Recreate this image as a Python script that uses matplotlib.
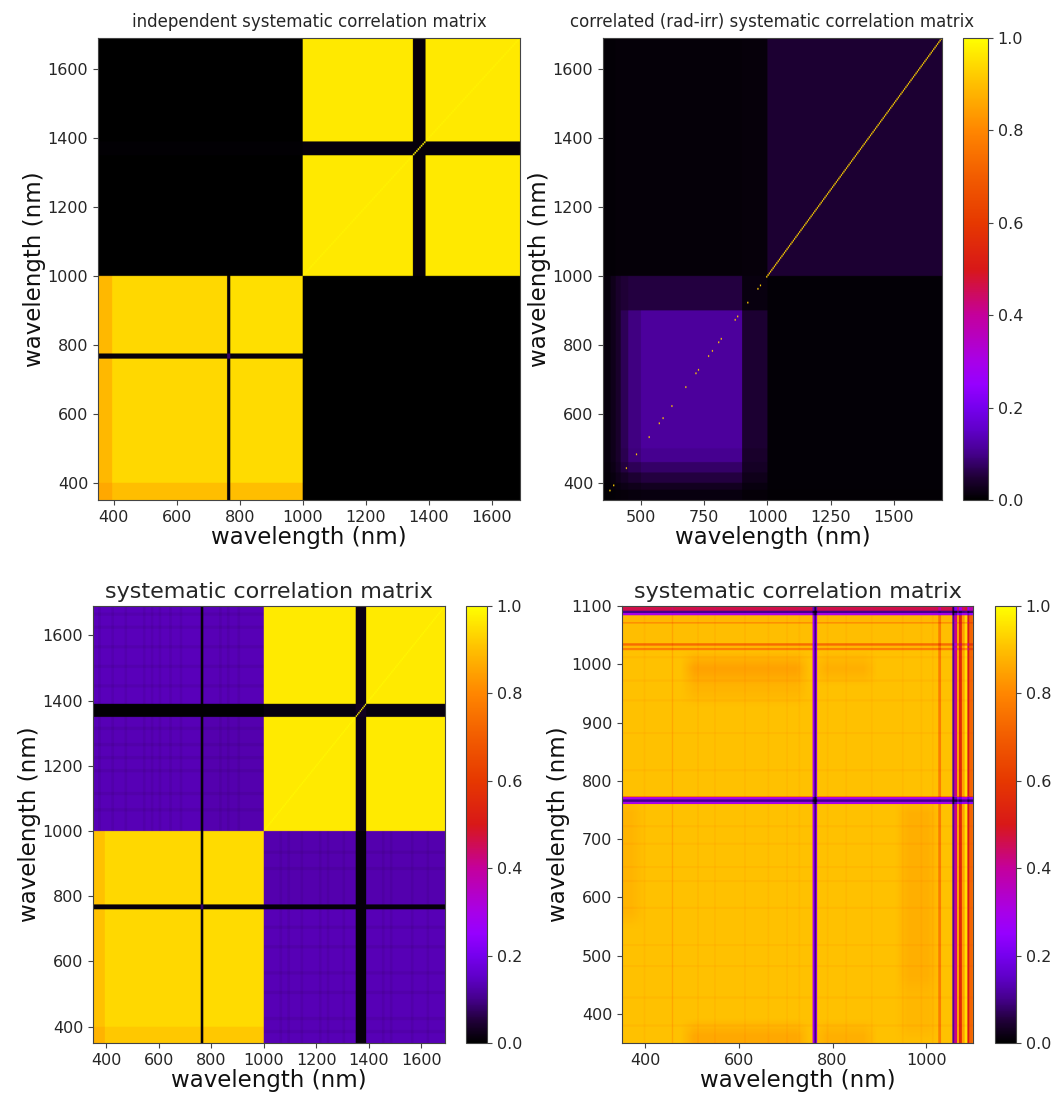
import matplotlib
matplotlib.use("Agg")
import matplotlib.pyplot as plt
from matplotlib.colors import LinearSegmentedColormap
import numpy as np

W, H = 1053, 1097
GRID_FULL = np.arange(350, 1690, 5.0)
GRID_VIS = np.arange(350, 1100, 2.0)

# colour bar
cmap_pos = [0.0, 0.05, 0.1, 0.15, 0.2, 0.25, 0.3, 0.4, 0.5, 0.6, 0.7, 0.8, 0.9, 1.0]
cmap_cols = ["#000000", "#200038", "#45008C", "#5F00C8", "#7600EE", "#9600FF", "#A800E8",
             "#C4009C", "#D81818", "#E63800", "#F25C00", "#FF8600", "#FFBE00", "#FFFF00"]

# independent systematic: band edges and block values
ind_x_edges = [350, 395, 757, 770, 1000, 1350, 1390, 1690]
ind_y_edges = [350, 400, 760, 772, 1000, 1350, 1390, 1690]
ind_blocks = [
    [0.86, 0.90, 0.01, 0.90, 0.00, 0.00, 0.00],
    [0.89, 0.94, 0.01, 0.945, 0.00, 0.00, 0.00],
    [0.01, 0.01, 0.08, 0.01, 0.00, 0.00, 0.00],
    [0.89, 0.94, 0.01, 0.95, 0.00, 0.00, 0.00],
    [0.00, 0.00, 0.00, 0.00, 0.965, 0.01, 0.965],
    [0.005, 0.005, 0.005, 0.005, 0.01, 0.01, 0.01],
    [0.00, 0.00, 0.00, 0.00, 0.965, 0.01, 0.965],
]

# correlated (rad-irr) systematic
cor_x_edges = [350, 380, 400, 420, 450, 500, 900, 1000, 1690]
cor_y_edges = [350, 380, 400, 430, 460, 500, 900, 1000, 1690]
cor_blocks = [
    [0.004, 0.006, 0.008, 0.01, 0.012, 0.015, 0.008, 0.005],
    [0.006, 0.01, 0.015, 0.02, 0.025, 0.03, 0.015, 0.006],
    [0.008, 0.015, 0.025, 0.035, 0.045, 0.055, 0.025, 0.006],
    [0.01, 0.02, 0.035, 0.055, 0.07, 0.08, 0.035, 0.006],
    [0.012, 0.025, 0.04, 0.065, 0.09, 0.105, 0.04, 0.006],
    [0.012, 0.025, 0.04, 0.07, 0.095, 0.115, 0.045, 0.006],
    [0.01, 0.025, 0.04, 0.05, 0.055, 0.055, 0.015, 0.006],
    [0.006, 0.007, 0.008, 0.008, 0.008, 0.008, 0.01, 0.045],
]
cor_diag_dots = [374, 388, 440, 477, 528, 567, 581, 620, 672, 711, 724, 762, 776,
                 801, 815, 866, 880, 919, 957, 970, 995]

# combined systematic
sys_x_edges = [350, 395, 757, 770, 1000, 1350, 1390, 1690]
sys_y_edges = [350, 400, 760, 772, 1000, 1350, 1390, 1690]
sys_blocks = [
    [0.88, 0.915, 0.01, 0.915, 0.135, 0.01, 0.135],
    [0.905, 0.94, 0.01, 0.945, 0.135, 0.01, 0.135],
    [0.01, 0.01, 0.08, 0.01, 0.01, 0.01, 0.01],
    [0.905, 0.94, 0.01, 0.945, 0.13, 0.01, 0.13],
    [0.135, 0.135, 0.01, 0.13, 0.968, 0.02, 0.968],
    [0.005, 0.005, 0.005, 0.005, 0.015, 0.03, 0.015],
    [0.14, 0.14, 0.01, 0.135, 0.968, 0.02, 0.968],
]
sys_dark_cols = [370, 420, 470, 540, 570, 600, 640, 680, 830, 860, 900, 1060, 1090, 1140,
                 1210, 1240, 1300, 1450, 1480, 1560, 1620]
sys_dark_rows = [380, 420, 500, 560, 640, 700, 880, 930, 1060, 1110, 1180, 1220, 1260,
                 1310, 1440, 1500, 1560, 1620, 1660]

# VIS-NIR matrix: profile along each axis plus local patches
vis_col_edges = [350, 455, 458, 756, 760, 763, 766, 1024, 1029, 1054, 1057, 1063, 1068,
                 1073, 1080, 1085, 1090, 1096, 1100]
vis_col_vals = [0.905, 0.86, 0.905, 0.30, 0.10, 0.30, 0.905, 0.78, 0.905, 0.12, 0.42, 0.85,
                0.56, 0.85, 0.95, 0.50, 0.72, 0.75]
vis_row_edges = [350, 759, 760, 764, 767, 771, 773, 1024, 1027, 1032, 1036, 1070, 1072,
                 1083, 1087, 1091, 1097, 1100]
vis_row_vals = [0.905, 0.72, 0.30, 0.10, 0.30, 0.78, 0.905, 0.78, 0.89, 0.74, 0.90, 0.79,
                0.89, 0.30, 0.10, 0.46, 0.65]
vis_patches = [
    (945, 1015, 450, 760, 0.965),
    (945, 1015, 360, 450, 0.98),
    (350, 385, 560, 760, 0.975),
    (490, 735, 975, 1010, 0.94),
    (490, 735, 940, 975, 0.975),
    (770, 880, 975, 1010, 0.965),
    (490, 735, 350, 378, 0.95),
    (770, 880, 350, 378, 0.965),
]
vis_soft_cols = [395, 455, 510, 545, 610, 660, 700, 725, 785, 825, 880, 945, 985, 1010]
vis_soft_rows = [378, 425, 480, 515, 580, 625, 650, 690, 720, 815, 880, 935, 970, 1010]

tick_labels_ind = [400, 600, 800, 1000, 1200, 1400, 1600]
tick_labels_cor_x = [500, 750, 1000, 1250, 1500]
tick_labels_vis_x = [400, 600, 800, 1000]
tick_labels_vis_y = [400, 500, 600, 700, 800, 900, 1000, 1100]
cbar_ticks = [0.0, 0.2, 0.4, 0.6, 0.8, 1.0]

TXT = "#262626"
SPINE = "#444444"
cmap = LinearSegmentedColormap.from_list("figure_bar", list(zip(cmap_pos, cmap_cols)), N=512)


def block_matrix(grid_x, grid_y, x_edges, y_edges, blocks):
    ix = np.clip(np.searchsorted(x_edges, grid_x, side="right") - 1, 0, len(x_edges) - 2)
    iy = np.clip(np.searchsorted(y_edges, grid_y, side="right") - 1, 0, len(y_edges) - 2)
    return np.asarray(blocks)[np.ix_(iy, ix)]


def axes_px(x0, y0, x1, y1):
    return fig.add_axes([x0 / W, 1 - y1 / H, (x1 - x0) / W, (y1 - y0) / H])


def show(ax, mat, extent, xticks, yticks, title, tsize, pad):
    im = ax.imshow(mat, origin="lower", extent=extent, cmap=cmap, vmin=0, vmax=1,
                   aspect="auto", interpolation="hanning")
    ax.set_xticks(xticks)
    ax.set_yticks(yticks)
    ax.tick_params(labelsize=11.5, labelcolor=TXT, color=SPINE)
    ax.set_xlabel("wavelength (nm)", fontsize=16.5, labelpad=1, color="#111111")
    ax.set_ylabel("wavelength (nm)", fontsize=16.5, labelpad=1, color="#111111")
    ax.set_title(title, fontsize=tsize, pad=pad, color=TXT)
    for s in ax.spines.values():
        s.set_color(SPINE)
    return im


def add_cbar(im, x0, y0, x1, y1):
    cax = axes_px(x0, y0, x1, y1)
    cb = fig.colorbar(im, cax=cax, ticks=cbar_ticks)
    cb.ax.tick_params(labelsize=11.5, labelcolor=TXT, color=SPINE)
    cb.outline.set_edgecolor(SPINE)
    return cb


fig = plt.figure(figsize=(W / 100, H / 100), dpi=100)
extent_full = [350, 1690, 350, 1690]
diag = np.arange(len(GRID_FULL))
nir = GRID_FULL >= 1000

# independent
ind = block_matrix(GRID_FULL, GRID_FULL, ind_x_edges, ind_y_edges, ind_blocks)
ind[diag[nir], diag[nir]] = 0.98
ax1 = axes_px(98, 38, 520, 500)
show(ax1, ind, extent_full, tick_labels_ind, tick_labels_ind,
     "independent systematic correlation matrix", 12, 8)

# correlated
cor = block_matrix(GRID_FULL, GRID_FULL, cor_x_edges, cor_y_edges, cor_blocks)
cor[diag[nir], diag[nir]] = 0.93
dot_idx = np.searchsorted(GRID_FULL, cor_diag_dots)
cor[dot_idx, dot_idx] = 0.92
ax2 = axes_px(603, 38, 942, 500)
im2 = show(ax2, cor, extent_full, tick_labels_cor_x, tick_labels_ind,
           "correlated (rad-irr) systematic correlation matrix", 12, 8)
add_cbar(im2, 963, 38, 988, 500)

# combined, with the faint darker stripes of the purple blocks
combo = block_matrix(GRID_FULL, GRID_FULL, sys_x_edges, sys_y_edges, sys_blocks)
purple = (combo > 0.1) & (combo < 0.2)
stripe = np.ones_like(combo)
for x in sys_dark_cols:
    stripe[:, (GRID_FULL >= x) & (GRID_FULL < x + 10)] *= 0.93
for y in sys_dark_rows:
    stripe[(GRID_FULL >= y) & (GRID_FULL < y + 10), :] *= 0.93
combo = np.where(purple, combo * stripe, combo)
combo[diag[nir], diag[nir]] = 0.985
ax3 = axes_px(93, 606, 445, 1043)
im3 = show(ax3, combo, extent_full, tick_labels_ind, tick_labels_ind,
           "systematic correlation matrix", 16, 6)
add_cbar(im3, 466, 606, 487, 1043)

# VIS-NIR
col_idx = np.clip(np.searchsorted(vis_col_edges, GRID_VIS, side="right") - 1, 0, len(vis_col_vals) - 1)
row_idx = np.clip(np.searchsorted(vis_row_edges, GRID_VIS, side="right") - 1, 0, len(vis_row_vals) - 1)
col_vals = np.asarray(vis_col_vals)[col_idx]
row_vals = np.asarray(vis_row_vals)[row_idx]
shade = np.ones((len(GRID_VIS), len(GRID_VIS)))
for x0, x1, y0, y1, val in vis_patches:
    mask_x = (GRID_VIS >= x0) & (GRID_VIS < x1)
    mask_y = (GRID_VIS >= y0) & (GRID_VIS < y1)
    shade[np.ix_(mask_y, mask_x)] = val
kernel = np.ones(15) / 15
shade = np.apply_along_axis(lambda v: np.convolve(np.pad(v, 7, mode="edge"), kernel, "valid"), 0, shade)
shade = np.apply_along_axis(lambda v: np.convolve(np.pad(v, 7, mode="edge"), kernel, "valid"), 1, shade)
vis = np.outer(row_vals, col_vals) / 0.905 * shade
for x in vis_soft_cols:
    vis[:, (GRID_VIS >= x) & (GRID_VIS < x + 4)] *= 0.985
for y in vis_soft_rows:
    vis[(GRID_VIS >= y) & (GRID_VIS < y + 4), :] *= 0.985
ax4 = axes_px(622, 606, 973, 1043)
im4 = show(ax4, vis, [350, 1100, 350, 1100], tick_labels_vis_x, tick_labels_vis_y,
           "systematic correlation matrix", 16, 6)
add_cbar(im4, 995, 606, 1016, 1043)

fig.savefig("out.png", dpi=100)
